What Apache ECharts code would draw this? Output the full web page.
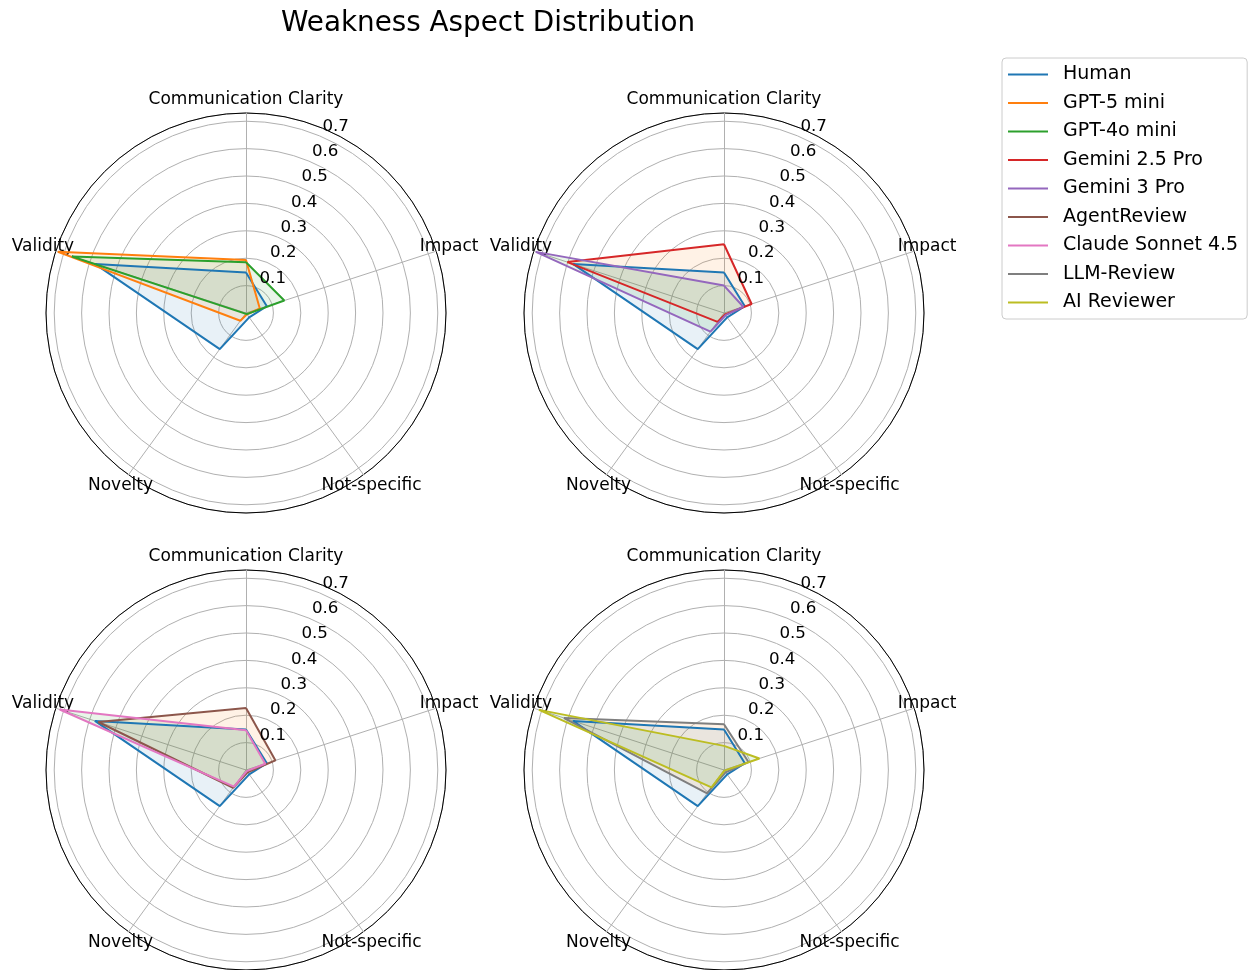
<!DOCTYPE html>
<html>
<head>
<meta charset="utf-8">
<script src="https://cdn.jsdelivr.net/npm/echarts@6/dist/echarts.min.js"></script>
<style>
html,body{margin:0;padding:0;background:#fff;}
#chart{width:1249px;height:970px;}
</style>
</head>
<body>
<div id="chart"></div>
<script>
// ---- data ----
const categories = ['Communication Clarity', 'Impact', 'Not-specific', 'Novelty', 'Validity'];
const radialTicks = [0.1, 0.2, 0.3, 0.4, 0.5, 0.6, 0.7];
const radialMax = 0.73;
const modelNames = ['Human', 'GPT-5 mini', 'GPT-4o mini', 'Gemini 2.5 Pro', 'Gemini 3 Pro',
                    'AgentReview', 'Claude Sonnet 4.5', 'LLM-Review', 'AI Reviewer'];
// values in category order: Communication Clarity, Impact, Not-specific, Novelty, Validity
const human       = [0.148, 0.080, 0.020, 0.163, 0.580];
const gpt5mini    = [0.193, 0.053, 0.006, 0.035, 0.722];
const gpt4omini   = [0.185, 0.147, 0.005, 0.006, 0.668];
const gemini25pro = [0.251, 0.106, 0.006, 0.040, 0.601];
const gemini3pro  = [0.100, 0.074, 0.010, 0.084, 0.722];
const agentReview = [0.226, 0.113, 0.010, 0.080, 0.567];
const claude45    = [0.145, 0.074, 0.005, 0.075, 0.715];
const llmReview   = [0.167, 0.094, 0.010, 0.105, 0.614];
const aiReviewer  = [0.088, 0.136, 0.003, 0.078, 0.710];
const panelModels = [
  [['Human', human], ['GPT-5 mini', gpt5mini], ['GPT-4o mini', gpt4omini]],
  [['Human', human], ['Gemini 2.5 Pro', gemini25pro], ['Gemini 3 Pro', gemini3pro]],
  [['Human', human], ['AgentReview', agentReview], ['Claude Sonnet 4.5', claude45]],
  [['Human', human], ['LLM-Review', llmReview], ['AI Reviewer', aiReviewer]]
];

// ---- style ----
const colors = {
  'Human': '#1f77b4', 'GPT-5 mini': '#ff7f0e', 'GPT-4o mini': '#2ca02c',
  'Gemini 2.5 Pro': '#d62728', 'Gemini 3 Pro': '#9467bd', 'AgentReview': '#8c564b',
  'Claude Sonnet 4.5': '#e377c2', 'LLM-Review': '#7f7f7f', 'AI Reviewer': '#bcbd22'
};
// fills follow their own colour cycle within each panel
const fillCycle = ['#1f77b4', '#ff7f0e', '#2ca02c'];
const centers = [[246, 313], [724, 313], [246, 770], [724, 770]];
const R = 200;
const FONT = 'DejaVu Sans';
const n = categories.length;
const step = 360 / n;
// radar goes counter-clockwise: order names accordingly
const radarOrder = [0, 4, 3, 2, 1];

const option = {
  animation: false,
  backgroundColor: '#ffffff',
  textStyle: { fontFamily: FONT },
  title: {
    text: 'Weakness Aspect Distribution',
    left: 276, top: 5,
    textStyle: { fontFamily: FONT, fontSize: 27.8, fontWeight: 'normal', color: '#000' }
  },
  legend: {
    orient: 'vertical', left: 1002, top: 58,
    data: modelNames,
    icon: 'rect', itemWidth: 40, itemHeight: 2, itemGap: 9.5,
    padding: [7, 9, 7, 6],
    borderColor: '#cccccc', borderWidth: 1, borderRadius: 4,
    backgroundColor: '#fff',
    textStyle: { fontFamily: FONT, fontSize: 19, color: '#000', padding: [0, 0, 0, 10] }
  },
  radar: centers.map(c => ({
    center: c, radius: R, startAngle: 90, shape: 'circle',
    indicator: radarOrder.map(i => ({ name: categories[i], max: 1 })),
    nameGap: 13.5,
    axisName: { color: '#000', fontSize: 17, fontFamily: FONT, align: 'center', verticalAlign: 'middle', padding: [3, 0, 0, 0] },
    axisLine: { lineStyle: { color: '#b0b0b0', width: 1 } },
    splitLine: { show: false }, splitArea: { show: false },
    axisTick: { show: false }, axisLabel: { show: false }
  })),
  polar: centers.map(c => ({ center: c, radius: R })).concat(centers.map(c => ({ center: c, radius: R }))),
  angleAxis: centers.map((c, k) => ({
    polarIndex: k, type: 'value', min: 0, max: 360, interval: step,
    startAngle: 90, clockwise: true,
    axisLine: { show: true, lineStyle: { color: '#000', width: 1 } },
    axisTick: { show: false }, axisLabel: { show: false }, splitLine: { show: false }
  })).concat(centers.map((c, k) => ({
    polarIndex: k + 4, type: 'value', min: 0, max: 360, startAngle: 67.5, clockwise: true, show: false
  }))),
  radiusAxis: centers.map((c, k) => ({
    polarIndex: k, type: 'value', min: 0, max: radialMax, interval: radialTicks[0],
    axisLine: { show: false }, axisTick: { show: false }, axisLabel: { show: false },
    splitLine: { show: true, lineStyle: { color: '#b0b0b0', width: 1 } }
  })).concat(centers.map((c, k) => ({
    polarIndex: k + 4, type: 'value', min: 0, max: radialMax, interval: radialTicks[0],
    axisLine: { show: false }, axisTick: { show: false }, splitLine: { show: false },
    z: 10,
    axisLabel: {
      show: true, showMinLabel: false, showMaxLabel: false, margin: 0,
      align: 'left', verticalAlign: 'bottom', padding: [0, 0, 1, 3],
      color: '#000', fontSize: 16.7, fontFamily: FONT,
      formatter: v => (radialTicks.some(t => Math.abs(t - v) < 1e-6) ? v.toFixed(1) : '')
    }
  }))),
  series: []
};

panelModels.forEach((models, k) => {
  models.forEach(([name, vals], j) => {
    const pts = vals.map((v, i) => [v, i * step]);
    pts.push([vals[0], 360]);
    option.series.push({
      type: 'line', name: name, coordinateSystem: 'polar', polarIndex: k,
      data: pts, symbol: 'none', smooth: false,
      color: colors[name],
      lineStyle: { width: 2, color: colors[name] },
      itemStyle: { color: colors[name] },
      areaStyle: { color: fillCycle[j], opacity: 0.1 }
    });
  });
});

const chart = echarts.init(document.getElementById('chart'), null, { renderer: 'canvas' });
chart.setOption(option);
</script>
</body>
</html>
